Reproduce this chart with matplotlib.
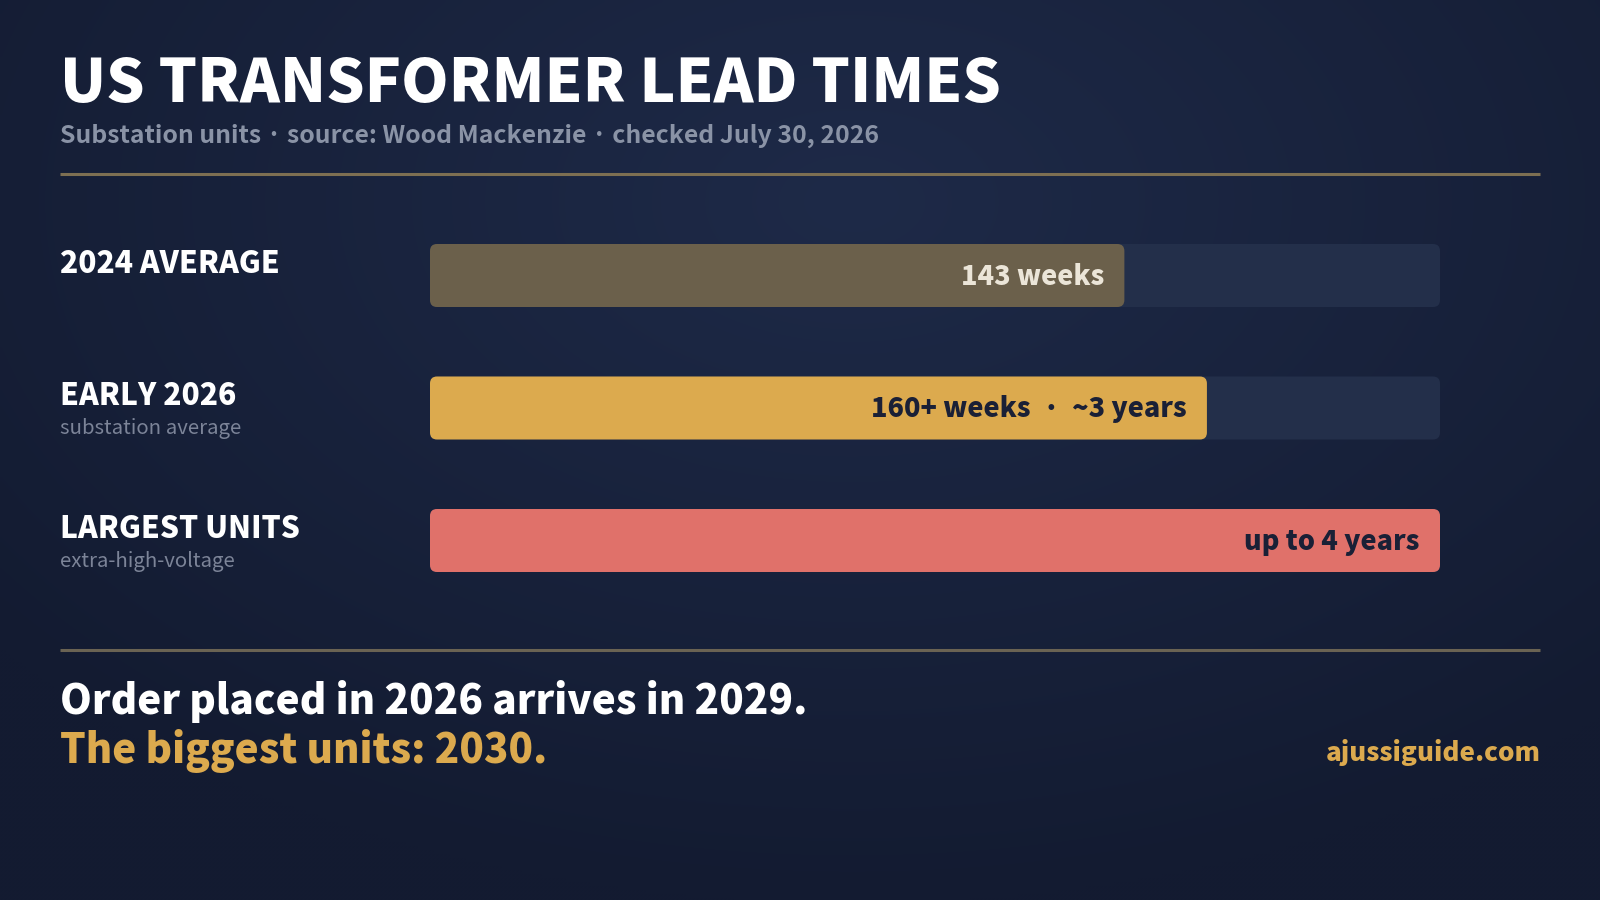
import numpy as np
import matplotlib
matplotlib.use("Agg")
import matplotlib.pyplot as plt
from matplotlib.patches import FancyBboxPatch
from matplotlib.transforms import blended_transform_factory

# ---------------- data ----------------
categories = ["2024 AVERAGE", "EARLY 2026", "LARGEST UNITS"]
sublabels = ["", "substation average", "extra-high-voltage"]
weeks = [143, 160, 208]          # 208 weeks = 4 years (scale maximum)
value_labels = ["143 weeks", "160+ weeks  ·  ~3 years", "up to 4 years"]
scale_max = 208

title = "US TRANSFORMER LEAD TIMES"
subtitle = "Substation units · source: Wood Mackenzie · checked July 30, 2026"
footer1 = "Order placed in 2026 arrives in 2029."
footer2 = "The biggest units: 2030."
site = "ajussiguide.com"

bar_colors = ["#6b604b", "#dcaa4e", "#e0716a"]
label_colors = ["#ebe5d8", "#1a2036", "#1a2036"]
track_color = "#232f4a"
gold = "#dcaa4e"

plt.rcParams['font.family'] = ['Noto Sans CJK JP', 'DejaVu Sans']
HEAVY = 900

W, H = 1600, 900
fig = plt.figure(figsize=(16, 9), dpi=100)

# background axes in pixel coordinates
bg = fig.add_axes([0, 0, 1, 1])
bg.set_xlim(0, W)
bg.set_ylim(H, 0)
bg.axis("off")
yy, xx = np.mgrid[0:H:4, 0:W:4]
d = np.sqrt(((xx - 850) / 1100.0) ** 2 + ((yy - 200) / 700.0) ** 2)
t = np.clip(d, 0, 1)[..., None]
c0 = np.array([0x1e, 0x2a, 0x48]) / 255.0
c1 = np.array([0x13, 0x1b, 0x31]) / 255.0
img = c0 * (1 - t) + c1 * t
bg.imshow(img, extent=[0, W, H, 0], aspect="auto", zorder=0, interpolation="bilinear")

# texts
bg.text(60, 102, title, fontsize=43.5, fontweight=HEAVY, color="white", ha="left", va="baseline")
bg.text(60, 143, subtitle, fontsize=17.85, fontweight="bold", color="#8a93a6", ha="left", va="baseline")
bg.plot([60, 1540], [173.5, 173.5], color="#7d6f52", lw=2.2, solid_capstyle="butt")
bg.plot([60, 1540], [650, 650], color="#6a6353", lw=2.2, solid_capstyle="butt")
bg.text(60, 714, footer1, fontsize=29.1, fontweight=HEAVY, color="white", ha="left", va="baseline")
bg.text(60, 763, footer2, fontsize=29.1, fontweight=HEAVY, color=gold, ha="left", va="baseline")
bg.text(1541, 761, site, fontsize=18.7, fontweight=HEAVY, color=gold, ha="right", va="baseline")

# bar axes
left_px, right_px = 430, 1440
top_px, unit_px = 196, 132.5
ymin, ymax = -0.6, 2.6
ax_h = (ymax - ymin) * unit_px
ax = fig.add_axes([left_px / W, 1 - (top_px + ax_h) / H, (right_px - left_px) / W, ax_h / H])
ax.set_xlim(0, scale_max)
ax.set_ylim(ymax, ymin)
ax.axis("off")
ax.patch.set_alpha(0)

bar_h = 63 / unit_px
xpp = scale_max / (right_px - left_px)
ypp = 1 / unit_px
aspect = ypp / xpp
r = 7 * xpp

for i, (v, c) in enumerate(zip(weeks, bar_colors)):
    track = FancyBboxPatch((0, i - bar_h / 2), scale_max, bar_h,
                           boxstyle=f"round,pad=0,rounding_size={r}",
                           mutation_aspect=aspect, fc=track_color, ec="none", zorder=1)
    ax.add_patch(track)
    bar = FancyBboxPatch((0, i - bar_h / 2), v, bar_h,
                         boxstyle=f"round,pad=0,rounding_size={r}",
                         mutation_aspect=aspect, fc=c, ec="none", zorder=2)
    ax.add_patch(bar)
    ax.text(v - 20 * xpp, i + 9 * ypp, value_labels[i], fontsize=19.5, fontweight=HEAVY,
            color=label_colors[i], ha="right", va="baseline", zorder=3)

trans = blended_transform_factory(fig.transFigure, ax.transData)
for i, (cat, sub) in enumerate(zip(categories, sublabels)):
    ax.text(60 / W, i - 3 * ypp, cat, transform=trans, fontsize=21.6, fontweight=HEAVY,
            color="white", ha="left", va="baseline")
    if sub:
        ax.text(60 / W, i + 26 * ypp, sub, transform=trans, fontsize=14.7,
                color="#7c8498", ha="left", va="baseline")

fig.savefig("out.png", dpi=100)
